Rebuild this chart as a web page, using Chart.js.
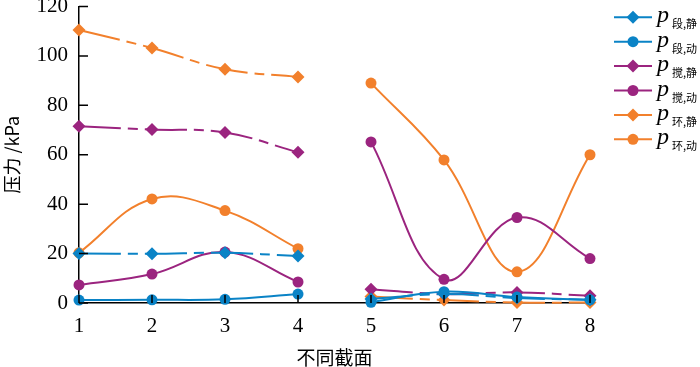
<!DOCTYPE html>
<html>
<head>
<meta charset="utf-8">
<script src="https://cdn.jsdelivr.net/npm/chart.js@4.4.1/dist/chart.umd.min.js"></script>
<style>
html,body{margin:0;padding:0;background:#fff;}
#wrap{width:700px;height:367px;position:relative;}
</style>
</head>
<body>
<div id="wrap"><canvas id="c" width="700" height="367"></canvas></div>
<script>
// categories (截面编号)
const sections = [1, 2, 3, 4, 5, 6, 7, 8];
const yTicks = [0, 20, 40, 60, 80, 100, 120];

// series values (kPa)
const duanStatic  = [20.0, 19.9, 20.3, 19.0, 1.6, 3.6, 2.0, 1.3];
const duanDynamic = [1.2, 1.3, 1.5, 3.6, 0.3, 4.6, 2.4, 1.3];
const jiaoStatic  = [71.5, 70.2, 69.0, 61.0, 5.6, 3.6, 4.3, 2.9];
const jiaoDynamic = [7.3, 11.7, 20.6, 8.5, 65.2, 9.6, 34.6, 18.0];
const huanStatic  = [110.5, 103.2, 94.6, 91.5, 2.6, 1.2, 0.2, 0.2];
const huanDynamic = [20.3, 42.1, 37.4, 22.0, 89.0, 57.9, 12.6, 60.0];

// legend labels (main symbol + subscript)
const labelMain = ['p', 'p', 'p', 'p', 'p', 'p'];
const labelSub  = ['段,静', '段,动', '搅,静', '搅,动', '环,静', '环,动'];

const BLUE = '#0a83c6', PURPLE = '#9b247f', ORANGE = '#f2802c';
const DASH = [42, 7, 10, 7];

// build xy data, breaking the line between section 4 and 5
function toXY(vals) {
  const out = [];
  sections.forEach((s, i) => {
    out.push({x: s, y: vals[i]});
    if (s === 4) out.push({x: 4.5, y: null});
  });
  return out;
}

const seriesDefs = [
  {vals: duanStatic,  color: BLUE,   style: 'rectRot', r: 6.5, dash: DASH},
  {vals: duanDynamic, color: BLUE,   style: 'circle',  r: 5.5, dash: []},
  {vals: jiaoStatic,  color: PURPLE, style: 'rectRot', r: 6.5, dash: DASH},
  {vals: jiaoDynamic, color: PURPLE, style: 'circle',  r: 5.5, dash: []},
  {vals: huanStatic,  color: ORANGE, style: 'rectRot', r: 6.5, dash: DASH},
  {vals: huanDynamic, color: ORANGE, style: 'circle',  r: 5.5, dash: []}
];

const datasets = seriesDefs.map((d, i) => ({
  label: labelMain[i] + labelSub[i],
  data: toXY(d.vals),
  borderColor: d.color,
  backgroundColor: d.color,
  borderWidth: 2,
  borderDash: d.dash,
  pointStyle: d.style,
  pointRadius: d.r,
  pointHoverRadius: d.r,
  pointBorderWidth: 0,
  tension: 0.4,
  spanGaps: false,
  clip: false
}));

const innerTicks = {
  id: 'innerTicks',
  afterDraw(chart) {
    const ctx = chart.ctx, xs = chart.scales.x, ys = chart.scales.y;
    const a = chart.chartArea;
    ctx.save();
    ctx.setLineDash([]);
    ctx.strokeStyle = '#000';
    ctx.lineWidth = 1.5;
    ctx.beginPath();
    yTicks.forEach(v => {
      const y = ys.getPixelForValue(v);
      ctx.moveTo(a.left, y); ctx.lineTo(a.left + 9, y);
    });
    sections.forEach(s => {
      const x = xs.getPixelForValue(s);
      ctx.moveTo(x, a.bottom); ctx.lineTo(x, a.bottom - 8);
    });
    ctx.stroke();
    ctx.restore();
  }
};

const customLegend = {
  id: 'customLegend',
  afterDraw(chart) {
    const ctx = chart.ctx;
    ctx.save();
    seriesDefs.forEach((d, i) => {
      const y = 17.3 + i * 24.4;
      ctx.strokeStyle = d.color;
      ctx.lineWidth = 2;
      ctx.setLineDash([]);
      ctx.beginPath();
      ctx.moveTo(614, y); ctx.lineTo(652, y);
      ctx.stroke();
      ctx.fillStyle = d.color;
      Chart.helpers.drawPoint(ctx, {pointStyle: d.style, radius: d.r, borderWidth: 0}, 633, y);
      ctx.fillStyle = '#000';
      ctx.textBaseline = 'alphabetic';
      ctx.textAlign = 'left';
      ctx.font = 'italic 24px "Liberation Serif", serif';
      ctx.fillText(labelMain[i], 657, y + 5);
      ctx.font = '11px "Noto Sans CJK SC", sans-serif';
      ctx.fillText(labelSub[i], 672, y + 11);
    });
    ctx.restore();
  }
};

new Chart(document.getElementById('c'), {
  type: 'line',
  data: {datasets},
  plugins: [innerTicks, customLegend],
  options: {
    responsive: false,
    animation: false,
    events: [],
    layout: {padding: {top: 6, right: 110, left: 0, bottom: 0}},
    plugins: {legend: {display: false}, tooltip: {enabled: false}},
    scales: {
      x: {
        type: 'linear',
        min: 1, max: 8,
        afterBuildTicks(scale) { scale.ticks = sections.map(v => ({value: v})); },
        afterFit(scale) { scale.height = 64; scale.paddingLeft = 0; },
        grid: {display: true, drawOnChartArea: false, drawTicks: false},
        border: {display: true, color: '#000', width: 1.5},
        ticks: {color: '#000', font: {family: '"Liberation Serif", serif', size: 21}, padding: 11, maxRotation: 0},
        title: {display: true, text: '不同截面', color: '#000',
                font: {family: '"Noto Sans CJK SC", sans-serif', size: 19}, padding: {top: 0, bottom: -2}}
      },
      y: {
        min: 0, max: 120,
        afterBuildTicks(scale) { scale.ticks = yTicks.map(v => ({value: v})); },
        afterFit(scale) { scale.width = 79; scale.paddingTop = 0; scale.paddingBottom = 0; },
        grid: {display: true, drawOnChartArea: false, drawTicks: false},
        border: {display: true, color: '#000', width: 1.5},
        ticks: {color: '#000', font: {family: '"Liberation Serif", serif', size: 21}, padding: 11},
        title: {display: true, text: '压力 /kPa', color: '#000',
                font: {family: '"Noto Sans CJK SC", sans-serif', size: 18}, padding: {top: 1, bottom: 0}}
      }
    }
  }
});
</script>
</body>
</html>
